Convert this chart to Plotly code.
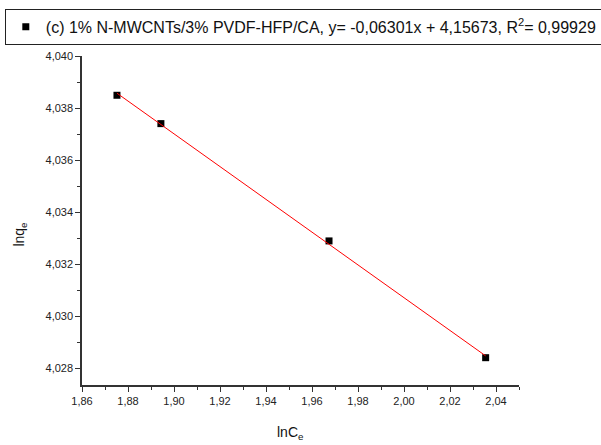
import plotly.graph_objects as go

# data
lnCe = [1.8752, 1.8943, 1.9674, 2.0355]
lnqe = [4.03849, 4.03740, 4.03289, 4.02840]
fit_x = [1.8752, 2.0355]
fit_y = [4.03857, 4.02847]
legend_label = "(c) 1% N-MWCNTs/3% PVDF-HFP/CA, y= -0,06301x + 4,15673, R<sup>2</sup>= 0,99929"
x_title = "lnC<sub>e</sub>"
y_title = "lnq<sub>e</sub>"

FONT = "Liberation Sans, Arial, sans-serif"

fig = go.Figure()
fig.add_trace(go.Scatter(
    x=lnCe, y=lnqe, mode="markers", name=legend_label,
    marker=dict(symbol="square", size=7, color="black"),
))
fig.add_trace(go.Scatter(
    x=fit_x, y=fit_y, mode="lines", showlegend=False,
    line=dict(color="red", width=1),
))

axis_common = dict(
    showline=True, linecolor="#333333", linewidth=1.5,
    ticks="outside", ticklen=5, tickwidth=1.2, tickcolor="#333333",
    showgrid=False, zeroline=False, mirror=False,
    tickfont=dict(family=FONT, size=11, color="#222222"),
    automargin=False,
)

fig.update_layout(
    width=601, height=445,
    margin=dict(l=82, r=82, t=56, b=60, autoexpand=False),
    paper_bgcolor="white", plot_bgcolor="white",
    separators=",.",
    font=dict(family=FONT, color="#111111"),
    showlegend=True,
    legend=dict(
        xref="container", yref="container",
        x=0.008, y=0.98, xanchor="left", yanchor="top",
        bordercolor="#222222", borderwidth=1,
        bgcolor="white",
        font=dict(family=FONT, size=16, color="#111111"),
        itemwidth=30,
    ),
    xaxis=dict(
        range=[1.86, 2.05], tick0=1.86, dtick=0.02, tickformat=".2f",
        minor=dict(ticks="outside", dtick=0.01, ticklen=3, tickcolor="#333333"),
        **axis_common,
    ),
    yaxis=dict(
        range=[4.02735, 4.040], tick0=4.028, dtick=0.002, tickformat=".3f",
        minor=dict(ticks="outside", dtick=0.001, ticklen=3, tickcolor="#333333"),
        **axis_common,
    ),
    annotations=[
        dict(text=x_title, xref="paper", yref="paper", x=0.476, y=-0.145,
             xanchor="center", yanchor="middle", showarrow=False,
             font=dict(family=FONT, size=14, color="#111111")),
        dict(text=y_title, xref="paper", yref="paper", x=-0.142, y=0.46,
             xanchor="center", yanchor="middle", showarrow=False, textangle=-90,
             font=dict(family=FONT, size=14, color="#111111")),
    ],
)

fig.write_html("out.html")
